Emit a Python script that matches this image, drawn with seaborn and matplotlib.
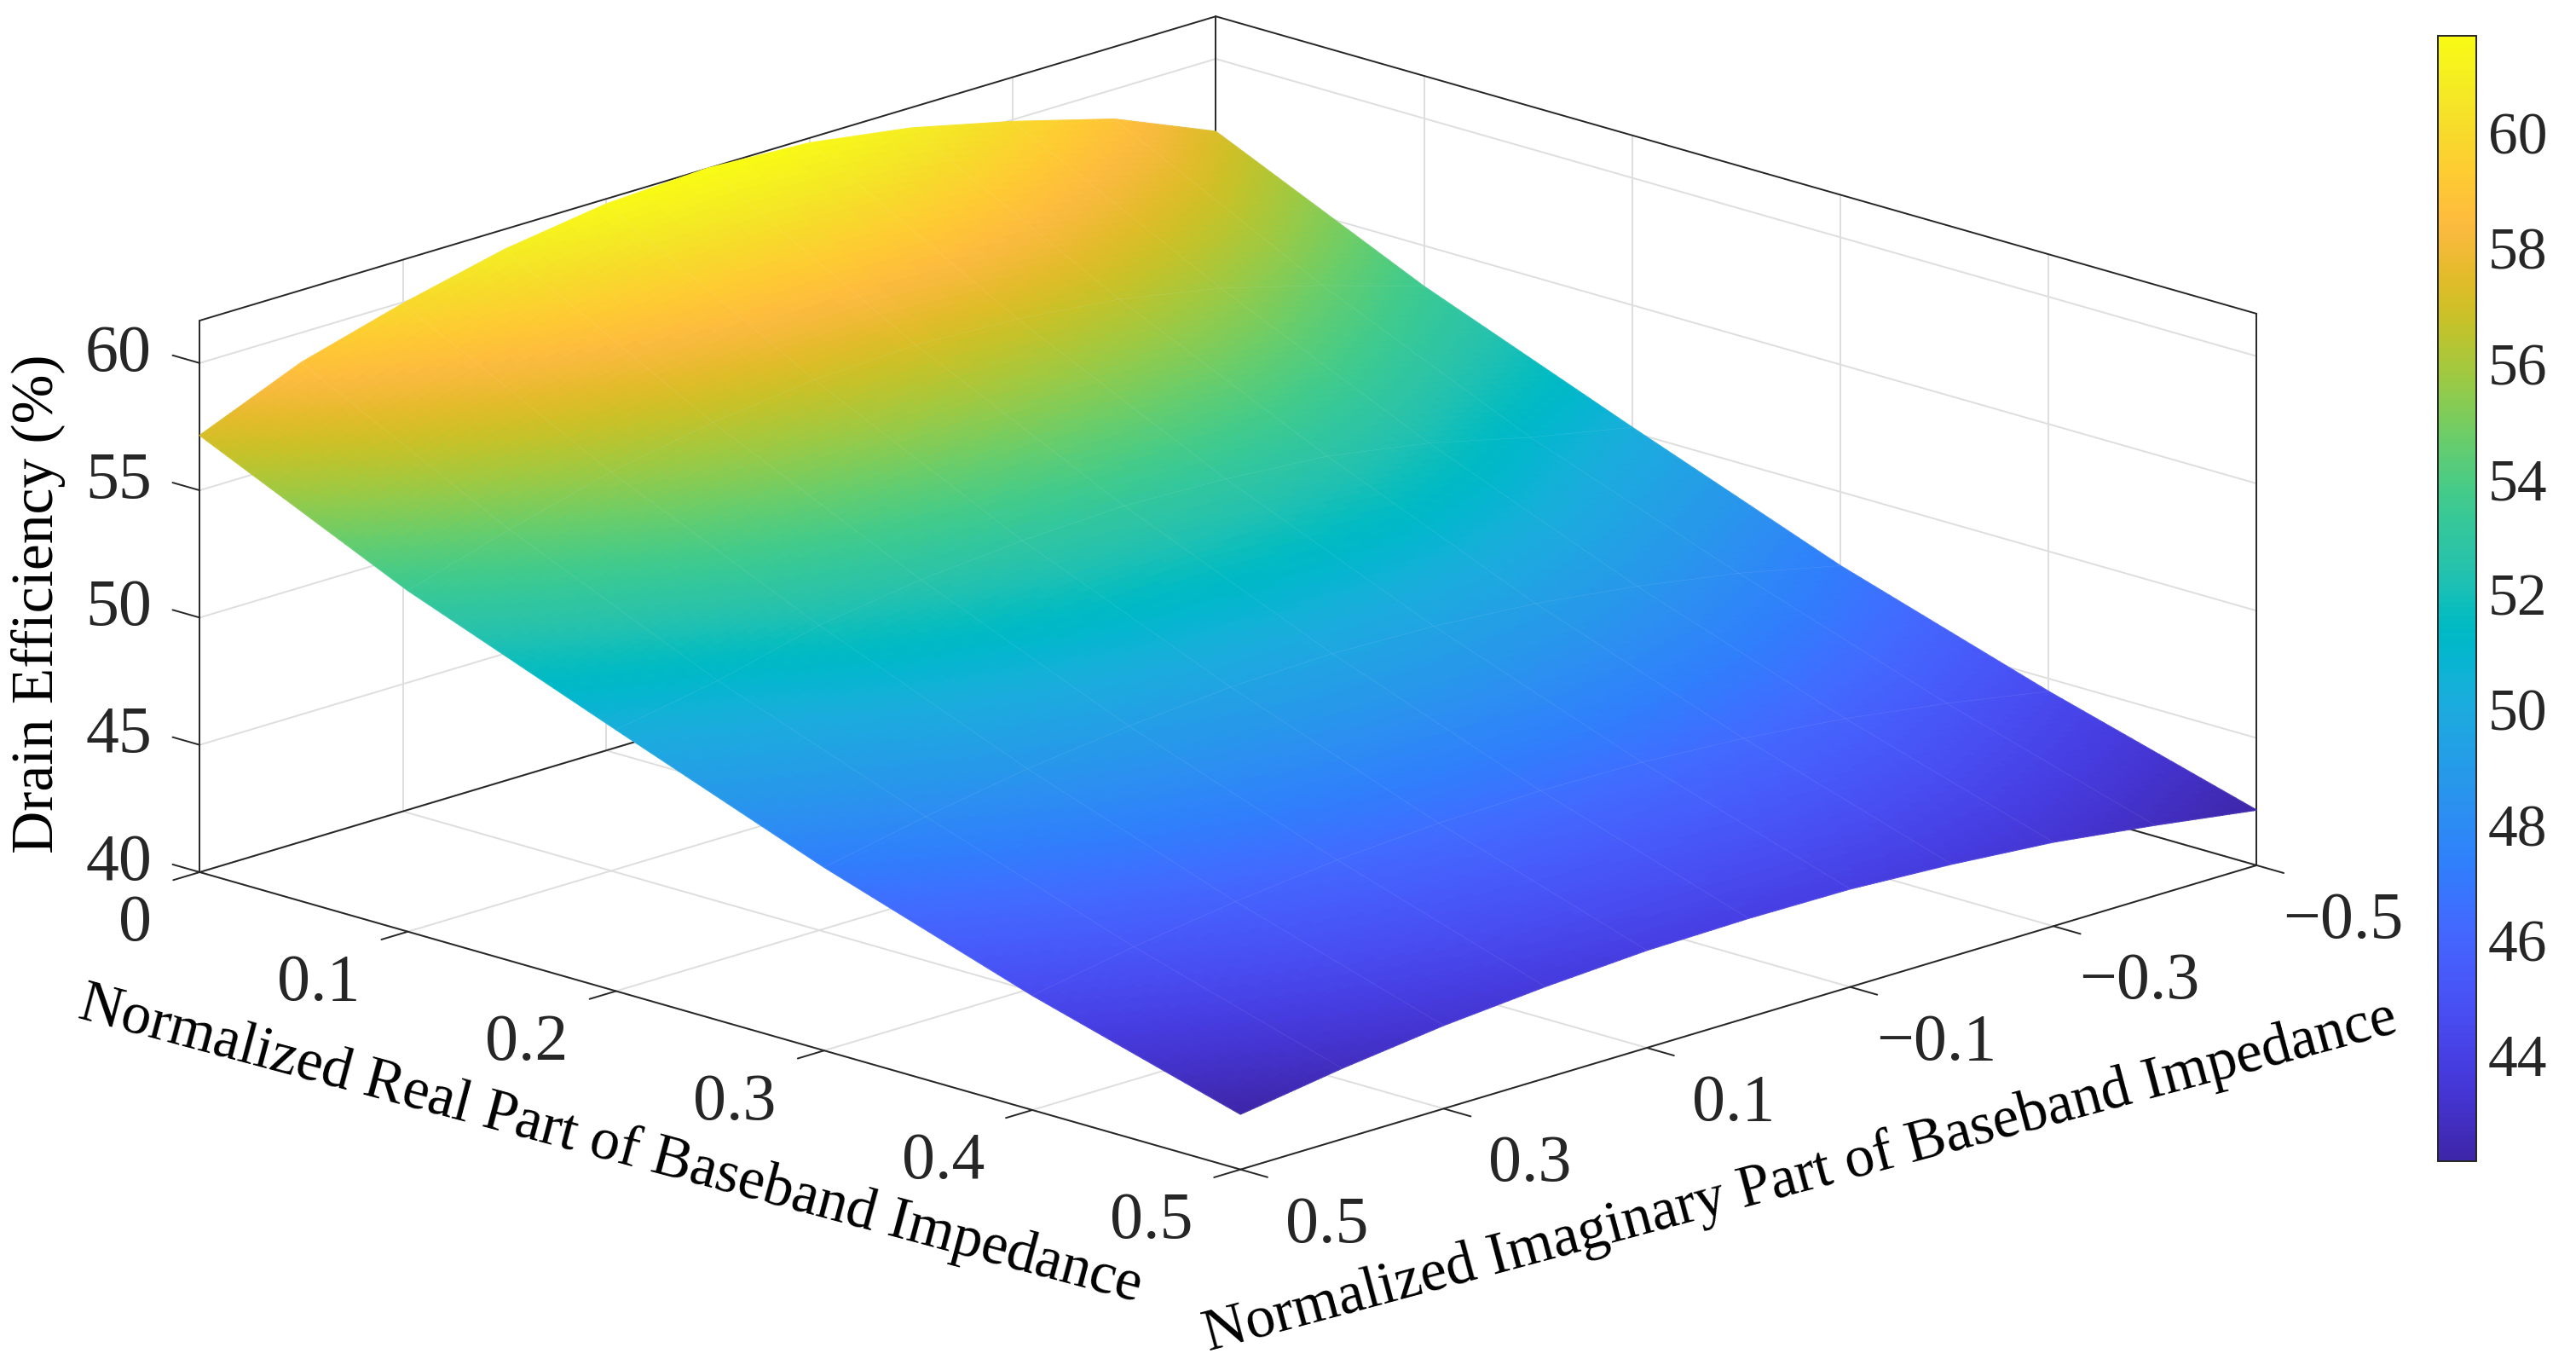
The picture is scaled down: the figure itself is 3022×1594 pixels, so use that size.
import numpy as np
import matplotlib
matplotlib.use("Agg")
import matplotlib.pyplot as plt
import seaborn as sns
from matplotlib.cm import ScalarMappable
from matplotlib.colors import Normalize
from mpl_toolkits.mplot3d import proj3d

# values (mesh nodes)
real_part = [0.0, 0.1, 0.2, 0.3, 0.4, 0.5]
imag_part = [0.5, 0.4, 0.3, 0.2, 0.1, 0.0, -0.1, -0.2, -0.3, -0.4, -0.5]

eff_r00 = [57.16, 58.83, 59.95, 60.88, 61.47, 61.68, 61.48, 60.87, 59.93, 58.83, 57.15]
eff_r01 = [53.40, 54.60, 55.67, 56.42, 56.90, 57.07, 56.90, 56.48, 55.72, 54.63, 53.40]
eff_r02 = [50.27, 51.00, 51.98, 52.58, 52.92, 53.09, 52.95, 52.65, 51.97, 51.00, 50.20]
eff_r03 = [47.20, 48.00, 48.68, 49.16, 49.50, 49.62, 49.50, 49.20, 48.68, 48.00, 47.10]
eff_r04 = [44.50, 45.22, 45.80, 46.24, 46.49, 46.57, 46.49, 46.24, 45.82, 45.22, 44.50]
eff_r05 = [42.17, 42.78, 43.27, 43.60, 43.83, 43.89, 43.85, 43.63, 43.30, 42.77, 42.17]

x_ticks = [0, 0.1, 0.2, 0.3, 0.4, 0.5]
x_tick_labels = ["0", "0.1", "0.2", "0.3", "0.4", "0.5"]
y_ticks = [-0.5, -0.3, -0.1, 0.1, 0.3, 0.5]
y_tick_labels = ["\u22120.5", "\u22120.3", "\u22120.1", "0.1", "0.3", "0.5"]
z_ticks = [40, 45, 50, 55, 60]
cbar_ticks = [44, 46, 48, 50, 52, 54, 56, 58, 60]

# parula, 64 levels
parula_rows = [
    (0.2422, 0.1504, 0.6603), (0.2504, 0.1650, 0.7076), (0.2578, 0.1818, 0.7511),
    (0.2647, 0.1978, 0.7952), (0.2706, 0.2147, 0.8364), (0.2751, 0.2342, 0.8710),
    (0.2783, 0.2559, 0.8991), (0.2803, 0.2782, 0.9221), (0.2813, 0.3006, 0.9414),
    (0.2810, 0.3228, 0.9579), (0.2795, 0.3447, 0.9717), (0.2760, 0.3667, 0.9829),
    (0.2699, 0.3892, 0.9906), (0.2602, 0.4123, 0.9952), (0.2440, 0.4358, 0.9988),
    (0.2206, 0.4603, 0.9973), (0.1963, 0.4847, 0.9892), (0.1834, 0.5074, 0.9798),
    (0.1786, 0.5289, 0.9682), (0.1764, 0.5499, 0.9520), (0.1687, 0.5703, 0.9359),
    (0.1540, 0.5902, 0.9218), (0.1460, 0.6091, 0.9079), (0.1380, 0.6276, 0.8973),
    (0.1248, 0.6459, 0.8883), (0.1113, 0.6635, 0.8763), (0.0952, 0.6798, 0.8598),
    (0.0689, 0.6948, 0.8394), (0.0297, 0.7082, 0.8163), (0.0036, 0.7203, 0.7917),
    (0.0067, 0.7312, 0.7660), (0.0433, 0.7411, 0.7394), (0.0964, 0.7500, 0.7120),
    (0.1408, 0.7584, 0.6842), (0.1717, 0.7670, 0.6554), (0.1938, 0.7758, 0.6251),
    (0.2161, 0.7843, 0.5923), (0.2470, 0.7918, 0.5567), (0.2906, 0.7973, 0.5188),
    (0.3406, 0.8008, 0.4789), (0.3909, 0.8029, 0.4354), (0.4456, 0.8024, 0.3909),
    (0.5044, 0.7993, 0.3480), (0.5616, 0.7942, 0.3045), (0.6174, 0.7876, 0.2612),
    (0.6720, 0.7793, 0.2227), (0.7242, 0.7698, 0.1910), (0.7738, 0.7598, 0.1646),
    (0.8203, 0.7498, 0.1535), (0.8634, 0.7406, 0.1596), (0.9035, 0.7330, 0.1774),
    (0.9393, 0.7288, 0.2100), (0.9728, 0.7298, 0.2394), (0.9956, 0.7434, 0.2371),
    (0.9970, 0.7659, 0.2199), (0.9952, 0.7893, 0.2028), (0.9892, 0.8136, 0.1885),
    (0.9786, 0.8386, 0.1766), (0.9676, 0.8639, 0.1643), (0.9610, 0.8890, 0.1537),
    (0.9597, 0.9135, 0.1423), (0.9628, 0.9373, 0.1265), (0.9691, 0.9606, 0.1064),
    (0.9769, 0.9839, 0.0805),
]

W, H = 3022, 1594
INK = "#262626"
GRID = "#dedede"
Z_MIN, Z_MAX = 40, 61.67
C_MIN, C_MAX = 42.17, 61.69


def smooth_shading(xs, ys, zs, factor=30):
    # same idea as "shading interp": only for drawing, between the read values
    u = np.arange(len(xs))
    v = np.arange(len(ys))
    uf = np.linspace(0, len(xs) - 1, (len(xs) - 1) * factor + 1)
    vf = np.linspace(0, len(ys) - 1, (len(ys) - 1) * factor + 1)
    by_row = np.array([np.interp(vf, v, row) for row in zs])
    fine = np.array([np.interp(uf, u, col) for col in by_row.T]).T
    xf = np.interp(uf, u, xs)
    yf = np.interp(vf, v, ys)
    yy, xx = np.meshgrid(yf, xf)
    return xx, yy, fine


def tick_text(ax, x, y, z, label, ha):
    # project the 3d anchor, the label itself is plain figure text
    px, py, _ = proj3d.proj_transform(x, y, z, ax.get_proj())
    dx, dy = ax.transData.transform((px, py))
    fig.text(dx / W, dy / H, label, fontsize=28, color=INK, ha=ha, va="center")


sns.set_theme(style="white")
plt.rcParams["font.family"] = ["Liberation Serif", "DejaVu Serif"]

cmap = sns.blend_palette(parula_rows, n_colors=64, as_cmap=True)
norm = Normalize(C_MIN, C_MAX)

fig = plt.figure(figsize=(W / 200, H / 200), dpi=200, facecolor="white")

S = 3000
ax = fig.add_axes([-99.75 / W, -642 / H, S / W, S / H], projection="3d",
                  proj_type="ortho", computed_zorder=False)
ax.set_box_aspect((1707, 1706, 676.6), zoom=0.811)
ax.view_init(elev=17.0, azim=-45.67)
ax.set_xlim(0, 0.5)
ax.set_ylim(0.5, -0.5)
ax.set_zlim(Z_MIN, Z_MAX)
ax.set_xticks([])
ax.set_yticks([])
ax.set_zticks([])
ax.set_axis_off()

# grid on the three back walls
for x in x_ticks:
    ax.plot([x, x], [0.5, -0.5], [Z_MIN, Z_MIN], color=GRID, lw=0.7, zorder=1)
    ax.plot([x, x], [-0.5, -0.5], [Z_MIN, Z_MAX], color=GRID, lw=0.7, zorder=1)
for y in y_ticks:
    ax.plot([0, 0.5], [y, y], [Z_MIN, Z_MIN], color=GRID, lw=0.7, zorder=1)
    ax.plot([0, 0], [y, y], [Z_MIN, Z_MAX], color=GRID, lw=0.7, zorder=1)
for z in z_ticks:
    ax.plot([0, 0], [0.5, -0.5], [z, z], color=GRID, lw=0.7, zorder=1)
    ax.plot([0, 0.5], [-0.5, -0.5], [z, z], color=GRID, lw=0.7, zorder=1)

# box edges behind the surface
ax.plot([0, 0, 0.5], [0.5, -0.5, -0.5], [Z_MIN] * 3, color=INK, lw=0.7, zorder=1.5)
ax.plot([0, 0, 0.5], [0.5, -0.5, -0.5], [Z_MAX] * 3, color=INK, lw=0.7, zorder=1.5)
ax.plot([0, 0], [0.5, 0.5], [Z_MIN, Z_MAX], color=INK, lw=0.7, zorder=1.5)
ax.plot([0, 0], [-0.5, -0.5], [Z_MIN, Z_MAX], color=INK, lw=0.7, zorder=1.5)
ax.plot([0.5, 0.5], [-0.5, -0.5], [Z_MIN, Z_MAX], color=INK, lw=0.7, zorder=1.5)

# surface
efficiency = np.array([eff_r00, eff_r01, eff_r02, eff_r03, eff_r04, eff_r05])
xx, yy, zz = smooth_shading(real_part, imag_part, efficiency)
ax.plot_surface(xx, yy, zz, facecolors=cmap(norm(zz)), rstride=1, cstride=1,
                shade=False, linewidth=0.5, antialiased=True, zorder=2)
X, Y = np.meshgrid(real_part, imag_part, indexing="ij")
ax.plot_wireframe(X, Y, efficiency, color="white", lw=0.2, alpha=0.14, zorder=2.1)

# front axes and ticks
ax.plot([0, 0.5, 0.5], [0.5, 0.5, -0.5], [Z_MIN] * 3, color=INK, lw=0.7, zorder=3)
for x in x_ticks:
    ax.plot([x, x], [0.5, 0.526], [Z_MIN, Z_MIN], color=INK, lw=0.7, zorder=3)
for y in y_ticks:
    ax.plot([0.5, 0.513], [y, y], [Z_MIN, Z_MIN], color=INK, lw=0.7, zorder=3)
for z in z_ticks:
    ax.plot([0, -0.013], [0.5, 0.5], [z, z], color=INK, lw=0.7, zorder=3)

# a draw fixes the axes box, the labels are projected after it
fig.canvas.draw()
for x, lab in zip(x_ticks, x_tick_labels):
    tick_text(ax, x, 0.547, 38.5, lab, "right")
for y, lab in zip(y_ticks, y_tick_labels):
    tick_text(ax, 0.5415, y, 38.75, lab, "center")
for z in z_ticks:
    tick_text(ax, -0.023, 0.5, z - 0.2, str(z), "right")

fig.text(716 / W, 1 - 1344 / H, "Normalized Real Part of Baseband Impedance",
         fontsize=25, color="black", rotation=-15, ha="center", va="center",
         rotation_mode="anchor")
fig.text(2112 / W, 1 - 1381 / H, "Normalized Imaginary Part of Baseband Impedance",
         fontsize=25, color="black", rotation=15, ha="center", va="center",
         rotation_mode="anchor")
fig.text(45 / W, 1 - 708 / H, "Drain Efficiency (%)", fontsize=25, color="black",
         rotation=90, ha="center", va="center")

# colorbar
cax = fig.add_axes([2860 / W, 1 - 1362 / H, 45 / W, 1320 / H])
cb = fig.colorbar(ScalarMappable(norm=norm, cmap=cmap), cax=cax)
cb.set_ticks(cbar_ticks)
cb.ax.tick_params(direction="in", length=5, width=0.5, labelsize=25, pad=5,
                  colors=INK)
cb.outline.set_edgecolor(INK)
cb.outline.set_linewidth(0.7)

fig.savefig("out.png", dpi=200)
